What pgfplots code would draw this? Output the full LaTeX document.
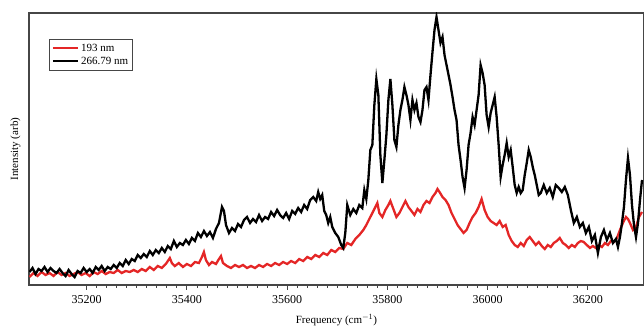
\documentclass[border=0pt]{standalone}
\usepackage{fontspec}
\setmainfont{Liberation Serif}
\usepackage{pgfplots}
\pgfplotsset{compat=1.18}
\definecolor{sred}{RGB}{228,38,38}
\definecolor{frame}{RGB}{70,70,70}
\begin{document}
\begin{tikzpicture}[x=1pt,y=1pt]
\useasboundingbox (0,0) rectangle (644,326);
\begin{axis}[
  at={(29pt,41pt)}, anchor=south west,
  width=615pt, height=272pt, scale only axis,
  xmin=35085, xmax=36312, ymin=0, ymax=272,
  ytick=\empty,
  xtick={35200,35400,...,36200},
  minor x tick num=9,
  tick align=outside,
  xtick pos=bottom,
  major tick length=5pt, minor tick length=3pt,
  every tick/.style={frame, line width=0.8pt},
  axis line style={frame, line width=1.2pt},
  scaled ticks=false,
  /pgf/number format/assume math mode=true,
  /pgf/number format/1000 sep={},
  x tick label style={font=\fontsize{12}{12}\selectfont, yshift=-2pt},
  xlabel={Frequency (cm$^{-1}$)},
  ylabel={Intensity (arb)},
  xlabel style={font=\fontsize{11}{11}\selectfont, yshift=-4pt},
  ylabel style={font=\fontsize{11}{11}\selectfont, yshift=0pt},
  legend style={at={(rel axis cs:0.0325,0.904)}, anchor=north west,
    font=\fontsize{11}{11}\selectfont, draw=frame, line width=0.8pt, inner sep=2.5pt, row sep=0pt},
  legend cell align=left,
  legend image code/.code={\draw[#1, line width=2.2pt] (0pt,0pt) -- (25pt,0pt);},
]
\addplot[sred, line width=2.3pt] coordinates {
(35086,8) (35094,12) (35102,9) (35110,13) (35118,10) (35126,12) (35134,9) (35142,13) (35150,10) (35158,12)
(35166,9) (35174,11) (35182,13) (35190,10) (35198,12) (35206,9) (35214,13) (35222,11) (35230,14) (35238,11)
(35246,13) (35254,12) (35262,15) (35270,12) (35278,14) (35286,13) (35294,15) (35302,13) (35310,16) (35318,14)
(35326,18) (35334,15) (35342,19) (35350,17) (35358,21) (35366,27) (35370,22) (35376,19) (35384,22) (35392,18)
(35400,21) (35408,19) (35416,23) (35424,22) (35430,28) (35434,33) (35438,25) (35444,20) (35450,23) (35458,21)
(35464,26) (35468,29) (35472,22) (35480,19) (35488,17) (35496,20) (35504,18) (35512,20) (35520,17) (35528,19)
(35536,17) (35544,20) (35552,18) (35560,21) (35568,19) (35576,22) (35584,20) (35592,23) (35600,21) (35608,24)
(35616,22) (35624,26) (35632,24) (35640,28) (35648,26) (35656,30) (35664,28) (35672,32) (35680,30) (35688,35)
(35696,33) (35704,37) (35712,36) (35720,42) (35728,40) (35736,46) (35744,50) (35752,55) (35758,60) (35764,66)
(35770,72) (35776,78) (35780,82) (35784,72) (35790,68) (35796,75) (35802,80) (35806,84) (35812,76) (35818,68)
(35824,72) (35830,78) (35836,84) (35842,78) (35848,74) (35854,70) (35860,76) (35866,73) (35872,80) (35878,84)
(35884,82) (35890,88) (35896,92) (35900,96) (35904,93) (35910,88) (35916,85) (35922,80) (35928,72) (35934,66)
(35940,60) (35946,56) (35952,52) (35958,55) (35964,62) (35970,68) (35976,72) (35982,78) (35988,86) (35994,75)
(36000,68) (36006,64) (36012,62) (36018,60) (36024,64) (36030,58) (36036,60) (36042,50) (36048,44) (36054,40)
(36060,38) (36066,42) (36072,39) (36078,45) (36084,48) (36090,44) (36096,40) (36102,43) (36108,39) (36114,36)
(36120,40) (36126,38) (36132,42) (36138,44) (36144,47) (36150,42) (36156,40) (36162,37) (36168,40) (36174,38)
(36180,42) (36186,44) (36192,43) (36198,40) (36204,37) (36210,39) (36216,37) (36222,40) (36228,38) (36234,42)
(36240,40) (36246,44) (36252,43) (36258,47) (36264,55) (36270,62) (36276,68) (36280,66) (36284,62) (36290,55)
(36296,58) (36302,68) (36308,73)
};
\addlegendentry{193 nm}
\addplot[black, line width=2.3pt] coordinates {
(35086,13) (35092,17) (35098,11) (35104,16) (35110,14) (35116,18) (35122,13) (35128,17) (35134,14) (35140,12)
(35146,16) (35152,12) (35158,9) (35164,15) (35170,11) (35176,8) (35182,14) (35188,12) (35194,17) (35200,13)
(35206,16) (35212,12) (35218,18) (35224,15) (35230,19) (35236,14) (35242,18) (35248,16) (35254,20) (35260,17)
(35266,22) (35272,19) (35278,25) (35284,21) (35290,26) (35296,24) (35302,30) (35308,27) (35314,31) (35320,28)
(35326,34) (35332,30) (35338,35) (35344,32) (35350,37) (35356,33) (35362,39) (35368,36) (35374,44) (35380,38)
(35386,42) (35392,40) (35398,45) (35404,41) (35410,47) (35416,44) (35422,52) (35428,48) (35434,54) (35440,49)
(35446,53) (35452,47) (35458,56) (35464,62) (35470,78) (35474,74) (35478,60) (35484,52) (35490,57) (35496,54)
(35502,61) (35508,58) (35514,65) (35520,68) (35526,62) (35532,66) (35538,63) (35544,70) (35550,64) (35556,68)
(35562,66) (35568,73) (35574,69) (35580,75) (35586,70) (35592,67) (35598,72) (35604,66) (35610,74) (35616,71)
(35622,77) (35628,73) (35634,80) (35640,76) (35646,85) (35652,88) (35658,84) (35662,93) (35666,86) (35670,90)
(35674,74) (35678,70) (35682,62) (35686,68) (35690,58) (35696,52) (35702,48) (35708,40) (35712,37) (35716,52)
(35720,80) (35726,70) (35732,76) (35738,72) (35744,80) (35750,77) (35754,95) (35758,86) (35762,105) (35766,135)
(35770,140) (35774,180) (35778,206) (35782,190) (35786,130) (35790,102) (35794,125) (35798,150) (35802,185) (35806,206)
(35810,180) (35814,145) (35818,138) (35822,160) (35826,175) (35830,185) (35834,198) (35838,190) (35842,180) (35846,165)
(35850,185) (35854,175) (35858,182) (35862,168) (35866,163) (35870,175) (35874,195) (35878,198) (35882,185) (35886,210)
(35890,233) (35894,255) (35898,268) (35902,255) (35906,242) (35910,248) (35914,230) (35918,220) (35922,210) (35926,200)
(35930,188) (35934,175) (35938,165) (35942,140) (35946,125) (35950,108) (35954,97) (35958,115) (35962,140) (35966,152)
(35970,168) (35974,160) (35978,175) (35982,190) (35986,220) (35990,212) (35994,200) (35998,170) (36002,158) (36006,172)
(36010,180) (36014,188) (36018,168) (36022,140) (36026,108) (36030,120) (36034,130) (36038,142) (36042,128) (36046,135)
(36050,118) (36054,100) (36058,92) (36062,98) (36066,92) (36070,95) (36074,110) (36078,122) (36082,135) (36086,128)
(36090,118) (36094,110) (36098,100) (36102,90) (36106,92) (36112,100) (36118,92) (36124,97) (36130,88) (36136,100)
(36142,97) (36148,93) (36154,98) (36160,90) (36166,75) (36172,62) (36178,68) (36184,58) (36190,62) (36196,52)
(36202,58) (36208,44) (36214,50) (36220,32) (36226,48) (36232,55) (36238,45) (36244,52) (36250,42) (36256,46)
(36260,38) (36264,48) (36268,62) (36272,78) (36276,105) (36280,127) (36284,110) (36288,80) (36292,60) (36296,48)
(36300,62) (36304,85) (36308,105)
};
\addlegendentry{266.79 nm}
\end{axis}
\end{tikzpicture}
\end{document}
